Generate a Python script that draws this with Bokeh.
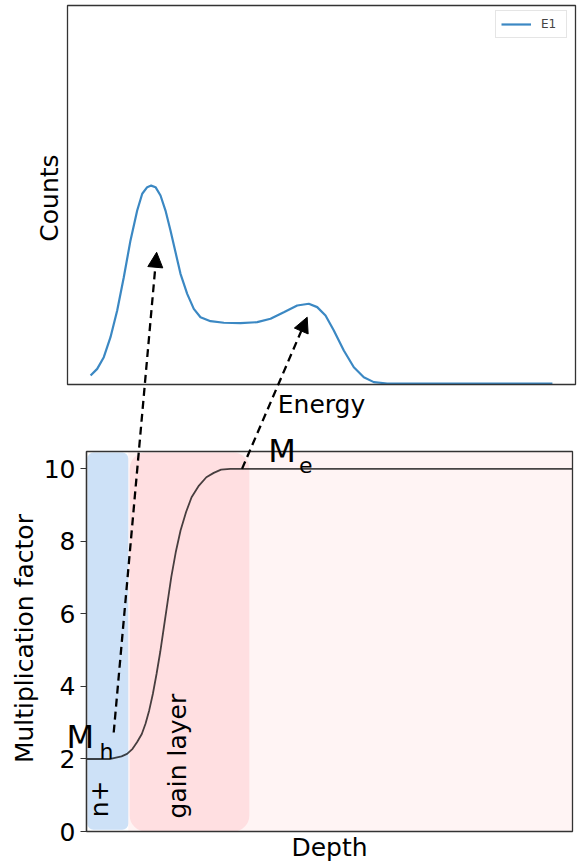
from bokeh.plotting import figure
from bokeh.models import Range1d, FixedTicker, Label, Arrow, NormalHead, ColumnDataSource
from bokeh.embed import file_html
from bokeh.resources import INLINE

# ---- data -------------------------------------------------------------
# Energy spectrum (upper panel)
energy = [0, 1.43, 2.86, 4.31, 5.76, 7.19, 8.64, 10.09, 11.18, 12.26, 13.12, 14.06,
          15.14, 16.22, 17.30, 18.39, 19.47, 20.92, 22.35, 23.80, 25.97, 28.85,
          32.46, 36.08, 38.96, 41.84, 44.74, 47.25, 49.07, 50.87, 52.67, 54.83,
          57.00, 59.16, 61.33, 64.23, 71.4, 100]
counts = [40, 74, 133, 234, 369, 537, 723, 874, 959, 992, 1000, 992,
          950, 874, 773, 663, 554, 453, 377, 335, 315, 307,
          305, 310, 327, 360, 394, 403, 386, 344, 268, 167,
          82, 32, 7, 0, 0, 0]

# Multiplication factor versus depth (lower panel)
depth = [0, 4.93, 7.21, 8.35, 9.48, 10.39, 11.38, 12.14, 12.90, 13.66, 14.42, 15.17,
         15.93, 16.69, 17.45, 18.36, 19.35, 20.49, 21.62, 23.14, 24.66, 26.18,
         27.69, 29.59, 31.49, 100]
mult = [2.0, 2.0, 2.07, 2.14, 2.28, 2.46, 2.69, 2.97, 3.34, 3.80, 4.35, 4.95,
        5.64, 6.33, 7.02, 7.70, 8.30, 8.81, 9.22, 9.54, 9.77, 9.89,
        9.98, 10.0, 10.0, 10.0]
mult_ticks = [0, 2, 4, 6, 8, 10]

# Doped regions along the depth axis (drawn back to front)
region_names = ["bulk", "gain layer", "n+"]
region_left = [8.6, 8.9, 0.2]
region_right = [100, 33.5, 8.6]
region_bottom = [0, 0, 0.05]
region_top = [10.48, 10.45, 10.45]
region_colors = ["#fff4f4", "#ffdfe1", "#cde1f7"]
region_radius = [0, 16, 6]

# Hole- and electron-multiplied signals -> the two spectrum peaks
arrow_from_depth = [5.6, 32.0]
arrow_from_mult = [2.73, 10.0]
arrow_to_energy = [14.3, 46.9]
arrow_to_counts = [663, 335]

# ---- layout -------------------------------------------------------------
W, H = 577, 864
PAD = 80                              # axis gutter, shifted out of view
FL, FT, FR, FB = 0, 0, W, H           # plot frame in page pixels

TOP_BOX = (67, 5, 575, 384)           # upper panel box (l, t, r, b) in pixels
TOP_LIM = (-5, 105, -5, 1910)         # energy / counts limits of that box
BOT_BOX = (86, 451, 572, 831)
BOT_LIM = (0, 100, 0, 10.48)


def frame_ranges(box, lim):
    l, t, r, b = box
    x0, x1, y0, y1 = lim
    sx = (r - l) / (x1 - x0)
    sy = (b - t) / (y1 - y0)
    xr = Range1d(x0 - (l - FL) / sx, x1 + (FR - r) / sx)
    yr = Range1d(y0 - (FB - b) / sy, y1 + (t - FT) / sy)
    return xr, yr


xr_d, yr_m = frame_ranges(BOT_BOX, BOT_LIM)
xr_e, yr_c = frame_ranges(TOP_BOX, TOP_LIM)


def convert(v, src, dst):
    return dst.start + (v - src.start) / (src.end - src.start) * (dst.end - dst.start)


def px_per_unit(r, span):
    return span / (r.end - r.start)


FONT = "DejaVu Sans"
EDGE = "#333333"
LABEL_SIZE = 25

p = figure(width=W + PAD, height=H, output_backend="svg", toolbar_location=None,
           x_range=xr_d, y_range=yr_m, x_axis_location=None,
           min_border_left=PAD, min_border_right=0, min_border_top=0, min_border_bottom=0,
           margin=(0, 0, 0, -PAD),
           background_fill_color="white", border_fill_color="white")
p.extra_x_ranges = {"energy": xr_e}
p.extra_y_ranges = {"counts": yr_c}
p.outline_line_color = None
p.grid.visible = False

# ---- lower panel --------------------------------------------------------
for i in range(len(region_names)):
    p.quad(left=region_left[i], right=region_right[i],
           bottom=region_bottom[i], top=region_top[i],
           fill_color=region_colors[i], line_color=None,
           border_radius=region_radius[i])
p.line(depth, mult, line_color="black", line_alpha=0.72, line_width=1.8)
p.quad(left=BOT_LIM[0], right=BOT_LIM[1], bottom=BOT_LIM[2], top=BOT_LIM[3],
       fill_color=None, line_color=EDGE, line_width=1.3)

yax = p.yaxis[0]
yax.fixed_location = BOT_LIM[0]
yax.bounds = (BOT_LIM[2], BOT_LIM[3])
yax.ticker = FixedTicker(ticks=mult_ticks)
yax.major_tick_out = 6
yax.major_tick_in = 0
yax.minor_tick_out = 0
yax.minor_tick_in = 0
yax.major_label_standoff = 5
yax.major_label_text_font = FONT
yax.major_label_text_font_size = f"{LABEL_SIZE}px"
yax.major_label_text_color = "black"
yax.axis_line_color = EDGE
yax.axis_line_width = 1.3
yax.major_tick_line_color = EDGE
yax.major_tick_line_width = 1.2

# ---- upper panel --------------------------------------------------------
p.line(energy, counts, x_range_name="energy", y_range_name="counts",
       line_color="#3b88c3", line_width=2.2, legend_label="E1")
p.quad(left=TOP_LIM[0], right=TOP_LIM[1], bottom=TOP_LIM[2], top=TOP_LIM[3],
       x_range_name="energy", y_range_name="counts",
       fill_color=None, line_color=EDGE, line_width=1.3)

p.legend.location = "top_right"
p.legend.margin = 10
p.legend.padding = 5
p.legend.spacing = 0
p.legend.glyph_width = 30
p.legend.glyph_height = 16
p.legend.label_standoff = 10
p.legend.label_text_font = FONT
p.legend.label_text_font_size = "12px"
p.legend.border_line_color = "#cccccc"
p.legend.border_line_width = 1
p.legend.background_fill_alpha = 0.85

# ---- arrows from the lower to the upper panel ---------------------------
arrow_src = ColumnDataSource(dict(
    x0=[convert(d, xr_d, xr_e) for d in arrow_from_depth],
    y0=[convert(m, yr_m, yr_c) for m in arrow_from_mult],
    x1=arrow_to_energy,
    y1=arrow_to_counts,
))
p.add_layout(Arrow(source=arrow_src, x_start="x0", y_start="y0", x_end="x1", y_end="y1",
                   x_range_name="energy", y_range_name="counts",
                   line_color="black", line_width=2.3, line_dash="8 5",
                   end=NormalHead(size=15, fill_color="black", line_color="black", line_width=1)))


# ---- texts --------------------------------------------------------------
# Positions are given on the text baseline; Bokeh anchors "middle" text at the
# centre of the ascent+descent box, 0.346 em above the baseline.
def label(text, x, y, size, rotated=False, align="left", top=False):
    xr, yr = (xr_e, yr_c) if top else (xr_d, yr_m)
    shift = 0.346 * size
    if rotated:
        x -= shift / px_per_unit(xr, FR - FL)
    else:
        y += shift / px_per_unit(yr, FB - FT)
    kw = dict(x_range_name="energy", y_range_name="counts") if top else {}
    p.add_layout(Label(x=x, y=y, text=text, angle=1.5707963 if rotated else 0.0,
                       text_align=align, text_baseline="middle", text_font=FONT,
                       text_font_size=f"{size}px", text_color="black", **kw))


label("Counts", -6.95, 937, LABEL_SIZE, rotated=True, align="center", top=True)
label("Energy", 50, -150, LABEL_SIZE, align="center", top=True)
label("Multiplication factor", -10.9, 5.32, LABEL_SIZE, rotated=True, align="center")
label("Depth", 50, -0.68, LABEL_SIZE, align="center")
label("n+", 4.53, 0.39, LABEL_SIZE, rotated=True)
label("gain layer", 20.58, 0.36, LABEL_SIZE, rotated=True)
label("M", -4.1, 2.29, 32)
label("h", 2.7, 2.01, 22)
label("M", 37.4, 10.18, 32)
label("e", 43.7, 9.90, 22)

open("out.html", "w").write(file_html(p, INLINE))
